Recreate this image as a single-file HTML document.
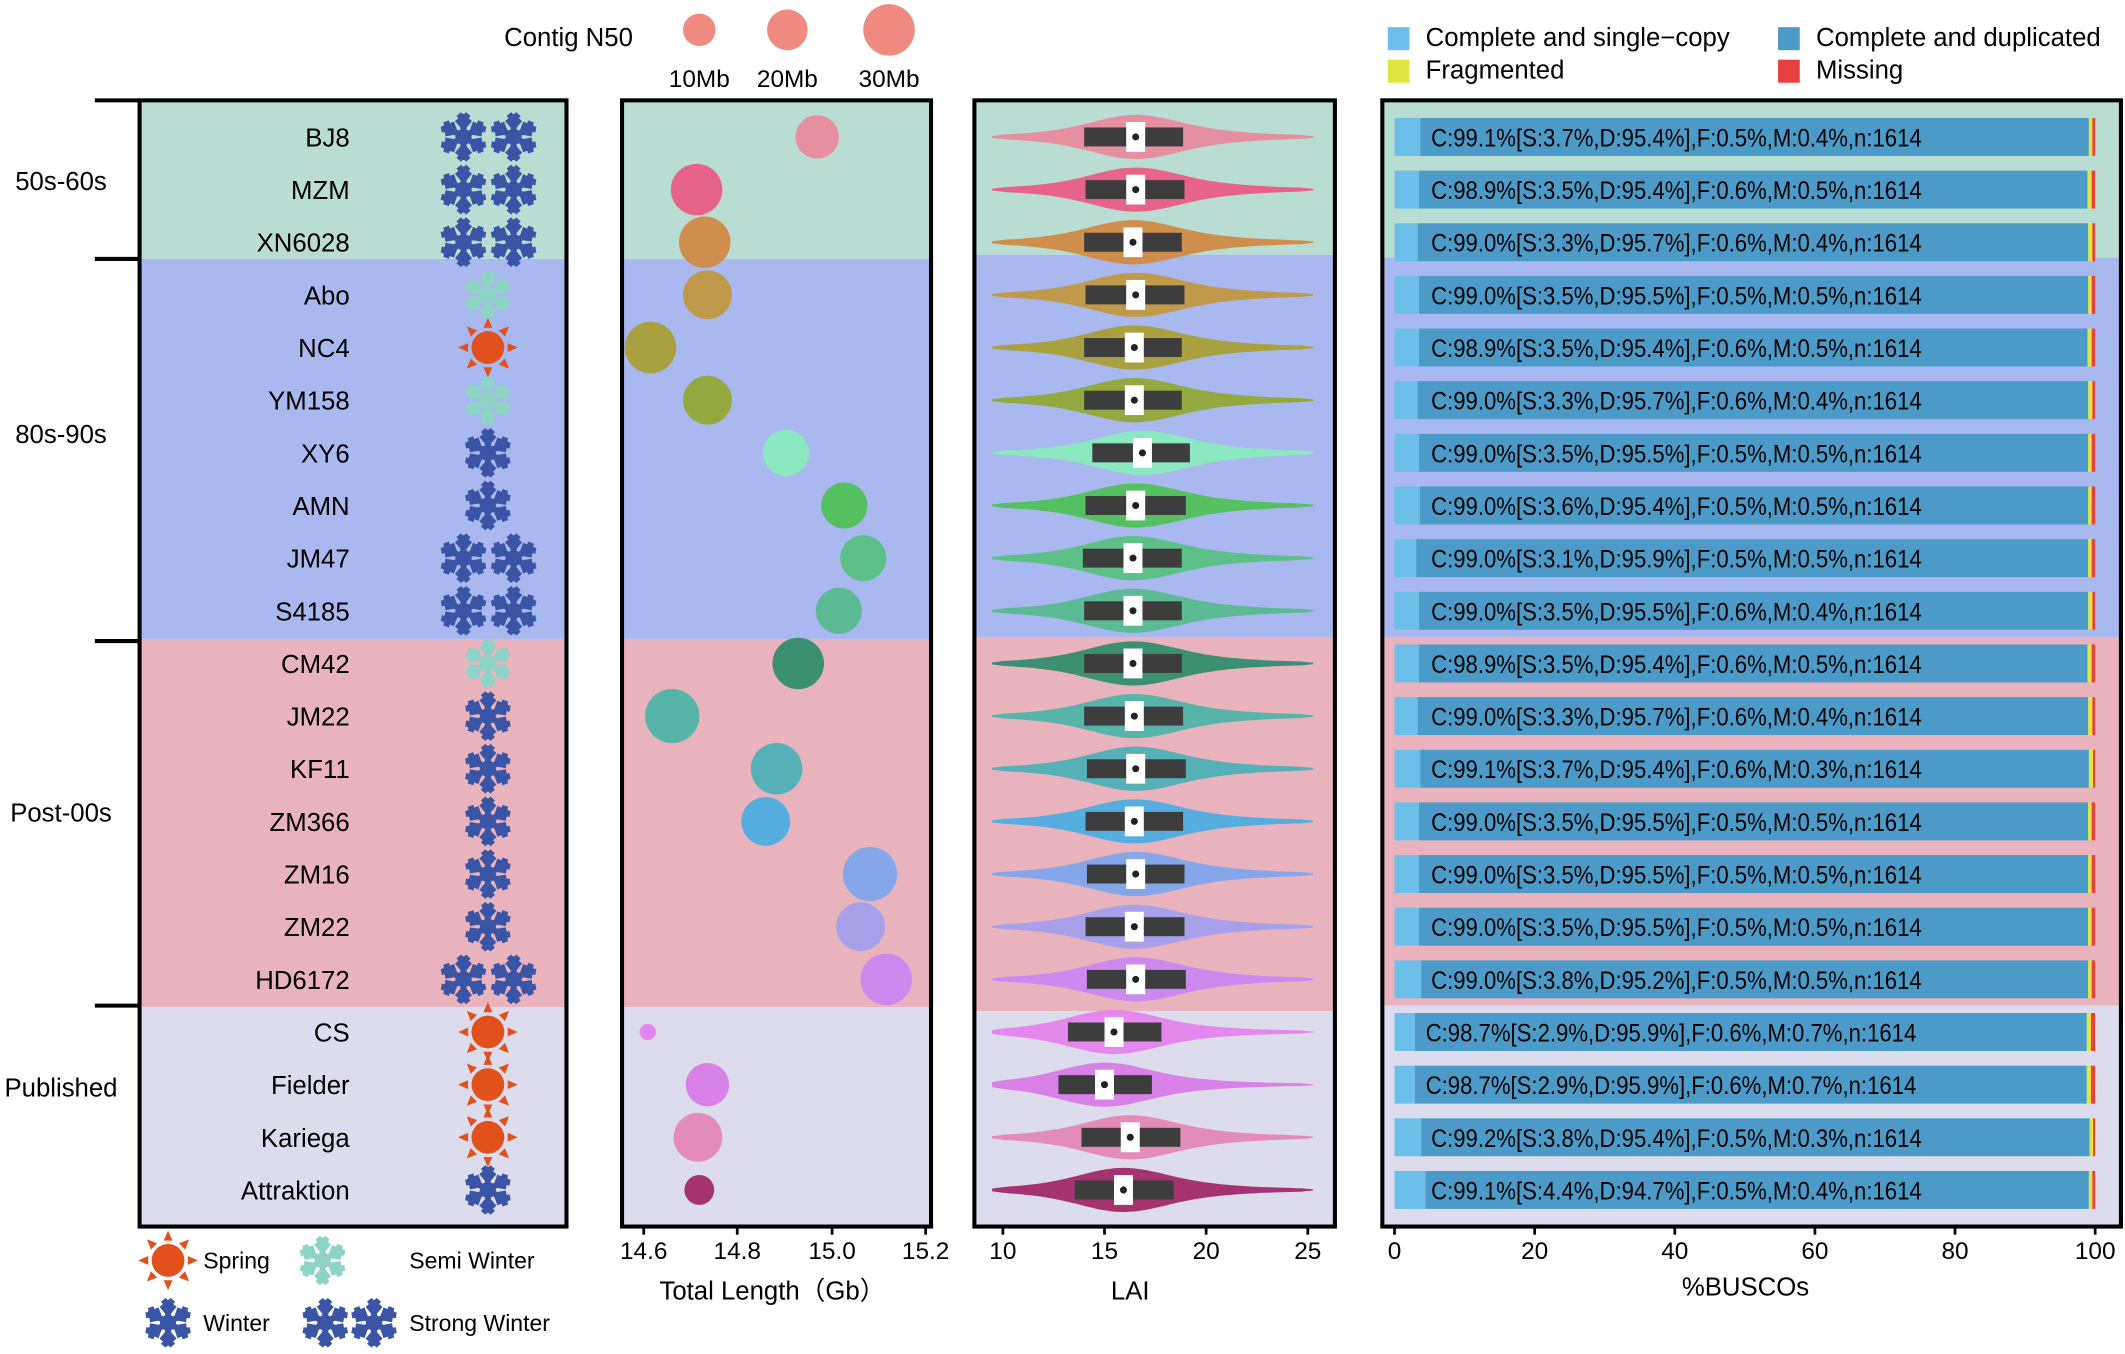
<!DOCTYPE html>
<html><head><meta charset="utf-8"><style>
html,body{margin:0;padding:0;background:#fff;}
svg{display:block;font-family:"Liberation Sans",Arial,sans-serif;}
</style></head><body>
<svg id="s" width="2125" height="1354" viewBox="0 0 1568 999" xmlns="http://www.w3.org/2000/svg"></svg>
<script>
const S=document.getElementById('s');let h='';
const Y=i=>101+38.85*i;
const names=["BJ8","MZM","XN6028","Abo","NC4","YM158","XY6","AMN","JM47","S4185","CM42","JM22","KF11","ZM366","ZM16","ZM22","HD6172","CS","Fielder","Kariega","Attraktion"];
const types=["SW","SW","SW","M","P","M","W","W","SW","SW","M","W","W","W","W","W","SW","P","P","P","W"];
const bandC=["#b9ddd2","#a9b8ee","#e9b3bd","#dcdcec"];
function bands(x1,x2,b){for(let i=0;i<4;i++)h+=`<rect x="${x1}" y="${b[i]}" width="${x2-x1}" height="${b[i+1]-b[i]}" fill="${bandC[i]}"/>`;}
function flake(cx,cy,r,c){let s=`<g stroke="${c}" stroke-width="${r*0.26}" stroke-linecap="butt" fill="none">`;
for(let k=0;k<6;k++){const a=k*Math.PI/3+Math.PI/2;const ex=cx+r*Math.cos(a),ey=cy-r*Math.sin(a);s+=`<line x1="${cx}" y1="${cy}" x2="${ex}" y2="${ey}"/>`;
for(const f of [0.45,0.75]){const px=cx+r*f*Math.cos(a),py=cy-r*f*Math.sin(a);const L=r*(f==0.45?0.42:0.32);
for(const d of [-0.7,0.7]){const b=a+d;s+=`<line x1="${px}" y1="${py}" x2="${px+L*Math.cos(b)}" y2="${py-L*Math.sin(b)}"/>`;}}}
return s+`<circle cx="${cx}" cy="${cy}" r="${r*0.22}" fill="${c}"/></g>`;}
function sun(cx,cy,r){let s=`<circle cx="${cx}" cy="${cy}" r="${r*0.55}" fill="#e2501c"/>`;
for(let k=0;k<8;k++){const a=k*Math.PI/4;const tp=(d,rr)=>(cx+rr*Math.cos(a+d))+','+(cy+rr*Math.sin(a+d));
s+=`<polygon points="${tp(0,r)} ${tp(0.22,r*0.68)} ${tp(-0.22,r*0.68)}" fill="#e2501c"/>`;}return s;}
function icon(t,cx,cy){if(t=="SW")return flake(cx-18,cy,17,"#3a55a6")+flake(cx+19,cy,17,"#3a55a6");
if(t=="W")return flake(cx,cy,17,"#3a55a6");if(t=="M")return flake(cx,cy,17,"#8fd3c6");return sun(cx,cy,22);}
bands(103,418,[74,191,472,743,905]);
names.forEach((n,i)=>{h+=`<text x="258" y="${Y(i)+7}" font-size="19" text-anchor="end">${n}</text>`;h+=icon(types[i],360,Y(i));});
h+=`<rect x="103" y="74" width="315" height="831" fill="none" stroke="#000" stroke-width="3"/>`;
[74,191,473,742].forEach(y=>h+=`<line x1="70" y1="${y}" x2="103" y2="${y}" stroke="#000" stroke-width="3"/>`);
[["50s-60s",133],["80s-90s",320],["Post-00s",599],["Published",802]].forEach(([t,y])=>h+=`<text x="45" y="${y+7}" font-size="19" text-anchor="middle">${t}</text>`);
h+=sun(124,930,22)+`<text x="150" y="936" font-size="17">Spring</text>`;
h+=flake(238,930,17,"#8fd3c6")+`<text x="302" y="936" font-size="17">Semi Winter</text>`;
h+=flake(124,976,17,"#3a55a6")+`<text x="150" y="982" font-size="17">Winter</text>`;
h+=flake(240,976,17,"#3a55a6")+flake(276,976,17,"#3a55a6")+`<text x="302" y="982" font-size="17">Strong Winter</text>`;
bands(459,687,[74,191,472,743,905]);
const bub=[[603,16,"#e68fa0"],[514,19,"#e8638a"],[520,19,"#d08e4c"],[522,18,"#c09a4a"],[480,19,"#a9a040"],[522,18,"#94a840"],[580,17,"#8be8c0"],[623,17,"#55c060"],[637,17,"#5cc088"],[619,17,"#5cbb94"],[589,19,"#3a9070"],[496,20,"#56b4a8"],[573,19,"#56b0b8"],[565,18,"#56aee0"],[642,20,"#86a6ea"],[635,18,"#a9a0ea"],[654,19,"#cc8aee"],[478,6,"#e488ee"],[522,16,"#d882e8"],[515,18,"#e48cb8"],[516,11,"#a4336e"]];
bub.forEach(([x,r,c],i)=>h+=`<circle cx="${x}" cy="${Y(i)}" r="${r}" fill="${c}"/>`);
h+=`<rect x="459" y="74" width="228" height="831" fill="none" stroke="#000" stroke-width="3"/>`;
[[475,"14.6"],[544,"14.8"],[614,"15.0"],[683,"15.2"]].forEach(([x,t])=>h+=`<line x1="${x}" y1="905" x2="${x}" y2="911" stroke="#000" stroke-width="2"/><text x="${x}" y="929" font-size="18" text-anchor="middle">${t}</text>`);
h+=`<text x="570" y="959" font-size="19" text-anchor="middle">Total Length（Gb）</text>`;
h+=`<text x="372" y="34" font-size="19">Contig  N50</text>`;
[[516,12,"10Mb"],[581,15,"20Mb"],[656,19,"30Mb"]].forEach(([x,r,t])=>h+=`<circle cx="${x}" cy="22" r="${r}" fill="#ee8a80"/><text x="${x}" y="64" font-size="18" text-anchor="middle">${t}</text>`);
bands(719,985,[74,188,470,746,905]);
const vc=[[838,800,873],[838,801,874],[836,800,872],[838,801,874],[837,800,872],[837,800,872],[843,806,878],[838,801,875],[836,799,872],[836,800,872],[836,800,872],[837,800,873],[838,802,875],[837,801,873],[838,802,874],[837,801,874],[838,802,875],[822,788,857],[815,781,850],[834,798,871],[829,793,866]];
names.forEach((n,i)=>{const y=Y(i),c=vc[i][0],b1=vc[i][1],b2=vc[i][2];const col=bub[i][2];
let top=[],bot=[];for(let x=732;x<=970;x+=3){let d=x-c;let w=d<0?70:80;
let hh=15.5*(0.55*Math.exp(-Math.pow(d/40,2))+0.45*Math.exp(-Math.pow(d/w,2)))+0.8*Math.min(1,(x-732)/10)*Math.min(1,(970-x)/10);
top.push(x+','+(y-hh).toFixed(1));bot.unshift(x+','+(y+hh).toFixed(1));}
h+=`<polygon points="${top.join(' ')} ${bot.join(' ')}" fill="${col}"/>`;
h+=`<rect x="${b1}" y="${y-7}" width="${b2-b1}" height="14" fill="#3d3d3d"/><rect x="${c-7}" y="${y-11}" width="14" height="22" fill="#fff"/><circle cx="${c}" cy="${y}" r="2.6" fill="#222"/>`;});
h+=`<rect x="719" y="74" width="266" height="831" fill="none" stroke="#000" stroke-width="3"/>`;
[[740,"10"],[815,"15"],[890,"20"],[965,"25"]].forEach(([x,t])=>h+=`<line x1="${x}" y1="905" x2="${x}" y2="911" stroke="#000" stroke-width="2"/><text x="${x}" y="929" font-size="18" text-anchor="middle">${t}</text>`);
h+=`<text x="834" y="959" font-size="19" text-anchor="middle">LAI</text>`;
bands(1020,1565,[74,190,470,742,905]);
const bs=["99.1,3.7,95.4,0.5,0.4","98.9,3.5,95.4,0.6,0.5","99.0,3.3,95.7,0.6,0.4","99.0,3.5,95.5,0.5,0.5","98.9,3.5,95.4,0.6,0.5","99.0,3.3,95.7,0.6,0.4","99.0,3.5,95.5,0.5,0.5","99.0,3.6,95.4,0.5,0.5","99.0,3.1,95.9,0.5,0.5","99.0,3.5,95.5,0.6,0.4","98.9,3.5,95.4,0.6,0.5","99.0,3.3,95.7,0.6,0.4","99.1,3.7,95.4,0.6,0.3","99.0,3.5,95.5,0.5,0.5","99.0,3.5,95.5,0.5,0.5","99.0,3.5,95.5,0.5,0.5","99.0,3.8,95.2,0.5,0.5","98.7,2.9,95.9,0.6,0.7","98.7,2.9,95.9,0.6,0.7","99.2,3.8,95.4,0.5,0.3","99.1,4.4,94.7,0.5,0.4"];
const X=v=>1029+5.17*v;
bs.forEach((s,i)=>{const q=s.split(',').map(Number);const C=q[0],Sv=q[1],D=q[2],F=q[3],M=q[4];const y=Y(i)-14;
const a=X(0),b=X(Sv),c=X(Sv+D),d=X(Sv+D+F),e=X(100);
h+=`<rect x="${a}" y="${y}" width="${b-a}" height="28" fill="#6bbfe8"/><rect x="${b}" y="${y}" width="${c-b}" height="28" fill="#4b9ac8"/><rect x="${c}" y="${y}" width="${Math.max(d-c,1.5)}" height="28" fill="#e0e640"/><rect x="${d}" y="${y}" width="${e-d}" height="28" fill="#e84040"/>`;
const t=`C:${C.toFixed(1)}%[S:${Sv.toFixed(1)}%,D:${D.toFixed(1)}%],F:${F.toFixed(1)}%,M:${M.toFixed(1)}%,n:1614`;
h+=`<text x="${(i==17||i==18)?1052:1056}" y="${Y(i)+7}" font-size="18.5" textLength="362" lengthAdjust="spacingAndGlyphs">${t}</text>`;});
h+=`<rect x="1020" y="74" width="545" height="831" fill="none" stroke="#000" stroke-width="3"/>`;
[0,20,40,60,80,100].forEach(v=>h+=`<line x1="${X(v)}" y1="905" x2="${X(v)}" y2="911" stroke="#000" stroke-width="2"/><text x="${X(v)}" y="929" font-size="18" text-anchor="middle">${v}</text>`);
h+=`<text x="1288" y="956" font-size="19" text-anchor="middle">%BUSCOs</text>`;
h+=`<rect x="1024" y="20" width="16" height="17" fill="#6bbfe8"/><text x="1052" y="34" font-size="19">Complete  and single−copy</text>`;
h+=`<rect x="1312" y="20" width="16" height="17" fill="#4b9ac8"/><text x="1340" y="34" font-size="19">Complete and duplicated</text>`;
h+=`<rect x="1024" y="44" width="16" height="17" fill="#e0e640"/><text x="1052" y="58" font-size="19">Fragmented</text>`;
h+=`<rect x="1312" y="44" width="16" height="17" fill="#e84040"/><text x="1340" y="58" font-size="19">Missing</text>`;
S.innerHTML=h;
</script>
</body></html>
